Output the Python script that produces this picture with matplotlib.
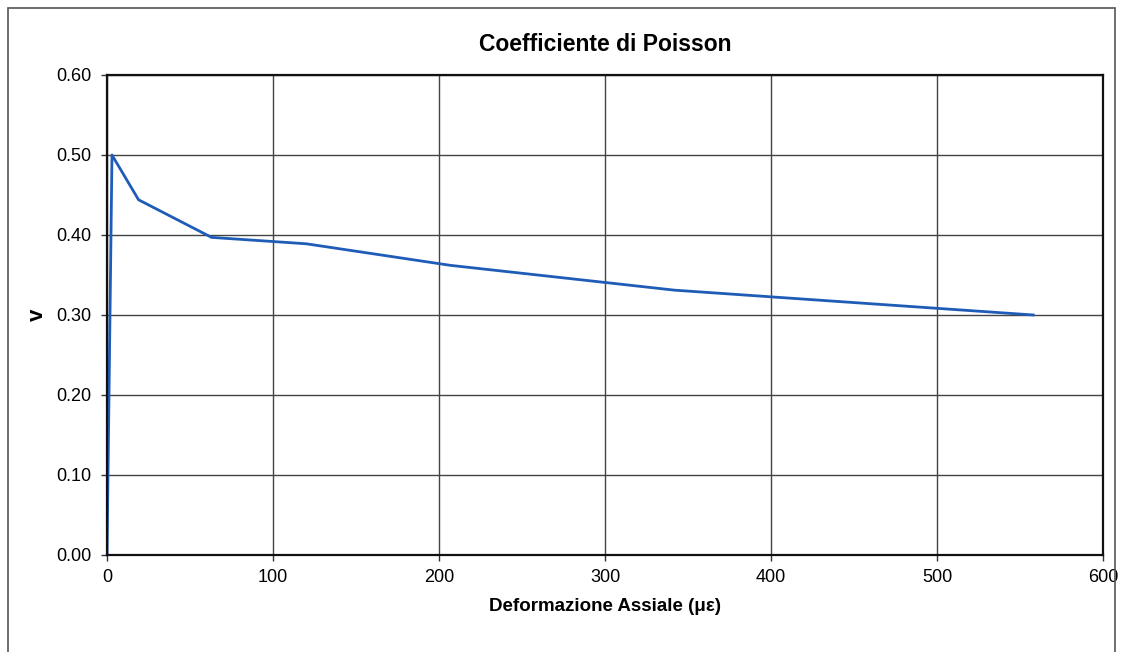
import matplotlib.pyplot as plt
from matplotlib.patches import Rectangle

plt.rcParams['font.family'] = ['Liberation Sans', 'DejaVu Sans']

# Dati
deformazione = [0, 3, 19, 63, 120, 207, 342, 558]   # microstrain
poisson = [0.0, 0.500, 0.444, 0.397, 0.389, 0.362, 0.331, 0.300]

x_ticks = [0, 100, 200, 300, 400, 500, 600]
y_ticks = [0.0, 0.1, 0.2, 0.3, 0.4, 0.5, 0.6]

fig = plt.figure(figsize=(11.24, 6.52), dpi=100)
ax = fig.add_axes([0.0952, 0.1488, 0.8861, 0.7362])

# cornice esterna
fig.patches.append(Rectangle((8/1124, -0.05), 1107/1124, 1.05 - 8/652,
                             transform=fig.transFigure, fill=False,
                             edgecolor='#555555', linewidth=1.2))

ax.plot(deformazione, poisson, color='#1f5cb8', linewidth=2)

ax.set_xlim(0, 600)
ax.set_ylim(0, 0.6)
ax.set_xticks(x_ticks)
ax.set_yticks(y_ticks)
ax.set_yticklabels([f"{v:.2f}" for v in y_ticks])
ax.tick_params(labelsize=13, length=4, width=1, direction='out', color='#333333')
ax.tick_params(axis='x', pad=6)
ax.tick_params(axis='y', pad=7)
ax.grid(True, color='#444444', linewidth=1)
ax.set_axisbelow(True)
for s in ax.spines.values():
    s.set_linewidth(1.6)
    s.set_color('#111111')

ax.set_title("Coefficiente di Poisson", fontsize=16.5, fontweight='bold', pad=17)
ax.set_xlabel("Deformazione Assiale (\u03bc\u03b5)", fontsize=13.5, fontweight='bold', labelpad=9)
ax.set_ylabel("v", fontsize=16, fontweight='bold', labelpad=6)

fig.savefig("out.png", dpi=100)
